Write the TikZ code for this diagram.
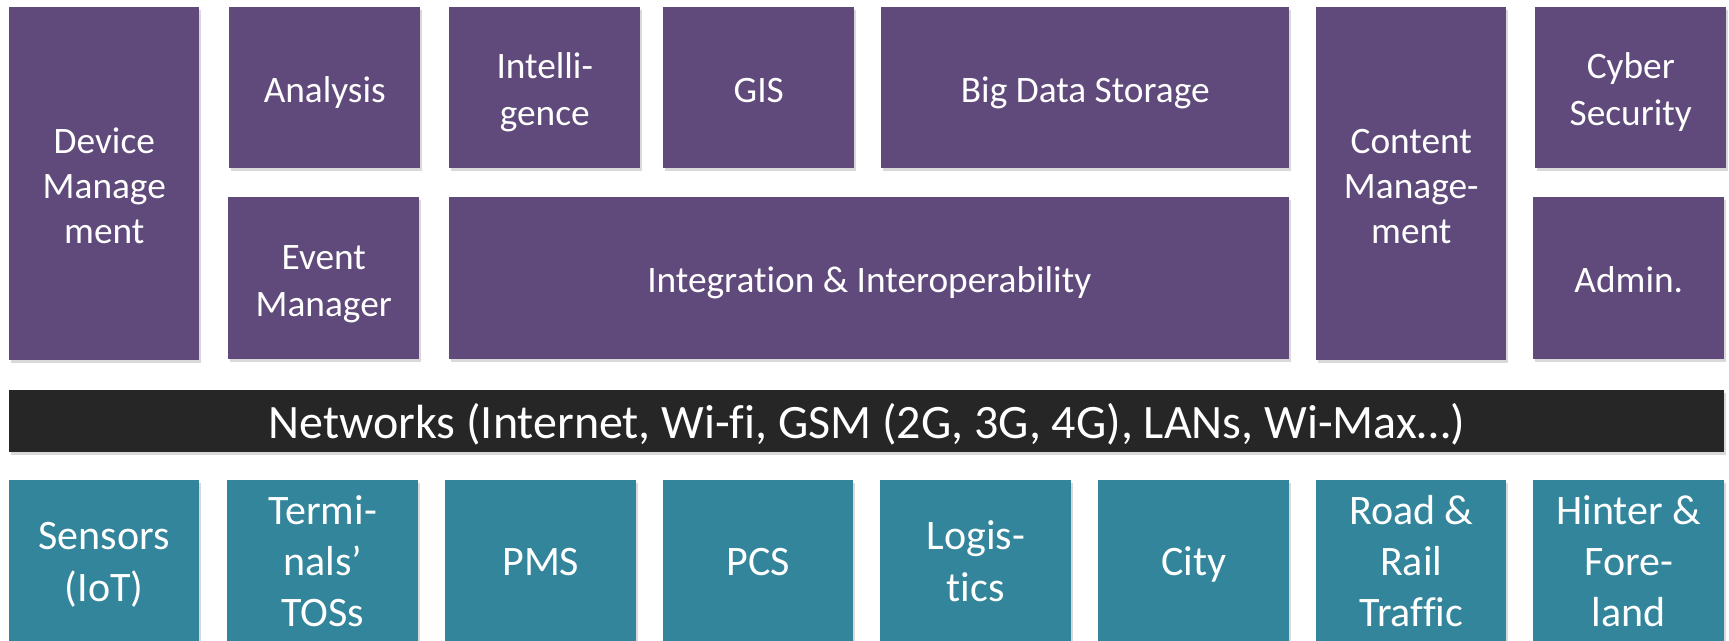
\documentclass[tikz,border=0pt]{standalone}
\usepackage{fontspec}
\setmainfont{Carlito}[Ligatures=NoCommon]
\usepackage{tikz}
\usetikzlibrary{shadows}
\definecolor{appviolet}{RGB}{96,74,123}
\definecolor{netblack}{RGB}{38,38,38}
\definecolor{srcteal}{RGB}{50,133,155}
% invisible strut: #1 height, #2 depth
\newcommand\linestrut[2]{\rule[-#2]{0pt}{\dimexpr#1+#2\relax}}
\tikzstyle{tile} = [rectangle, anchor=north west, inner sep=0pt, align=flush center, text=white, drop shadow={shadow xshift=1pt, shadow yshift=-2pt, opacity=0.3}]
\tikzstyle{appbox} = [tile, fill=appviolet, font=\fontsize{28}{33.75}\selectfont, execute at begin node={\linestrut{28pt}{6.25pt}}, execute at end node={\linestrut{28pt}{6.25pt}}]
\tikzstyle{netbar} = [tile, fill=netblack, font=\fontsize{36}{44}\selectfont, execute at begin node={\linestrut{34pt}{8.5pt}}]
\tikzstyle{srcbox} = [tile, fill=srcteal, font=\fontsize{31.5}{38.5}\selectfont, execute at begin node={\linestrut{28pt}{8pt}}, execute at end node={\linestrut{28pt}{8pt}}]
\tikzset{wh/.style 2 args={text width=#1*0.75pt, minimum height=#2*0.75pt}}

\begin{document}
\begin{tikzpicture}[x=0.75pt, y=-0.75pt]

\useasboundingbox (0,0) rectangle (1729,641);

% applications
\node [appbox, wh={190}{353}] (devmgmt) at (9,7) {Device\\Manage\\ment};
\node [appbox, wh={191}{161}] (analysis) at (229,7) {Analysis};
\node [appbox, wh={191}{161}] (intel) at (449,7) {Intelli-\\gence};
\node [appbox, wh={191}{161}] (gis) at (663,7) {GIS};
\node [appbox, wh={408}{161}] (bigdata) at (881,7) {Big Data Storage};
\node [appbox, wh={191}{162}] (eventmgr) at (228,197) {Event\\Manager};
\node [appbox, wh={840}{162}] (integr) at (449,197) {Integration \& Interoperability};
\node [appbox, wh={190}{353}] (contmgmt) at (1316,7) {Content\\Manage-\\ment};
\node [appbox, wh={191}{161}] (cyber) at (1535,7) {Cyber\\Security};
\node [appbox, wh={191}{162}] (admin) at (1533,197) {Admin.};

% networks
\node [netbar, wh={1715}{62}] (net) at (9,390) {Networks (Internet, Wi-fi, GSM (2G, 3G, 4G), LANs, Wi-Max…)};

% sources
\node [srcbox, wh={190}{164}] (sensors) at (9,480) {Sensors\\(IoT)};
\node [srcbox, wh={191}{164}] (tos) at (227,480) {Termi-\\nals’\\TOSs};
\node [srcbox, wh={191}{164}] (pms) at (445,480) {PMS};
\node [srcbox, wh={190}{164}] (pcs) at (663,480) {PCS};
\node [srcbox, wh={191}{164}] (logist) at (880,480) {Logis-\\tics};
\node [srcbox, wh={191}{164}] (city) at (1098,480) {City};
\node [srcbox, wh={190}{164}] (traffic) at (1316,480) {Road \&\\Rail\\Traffic};
\node [srcbox, wh={191}{164}] (hinter) at (1533,480) {Hinter \&\\Fore-\\land};

\end{tikzpicture}
\end{document}
